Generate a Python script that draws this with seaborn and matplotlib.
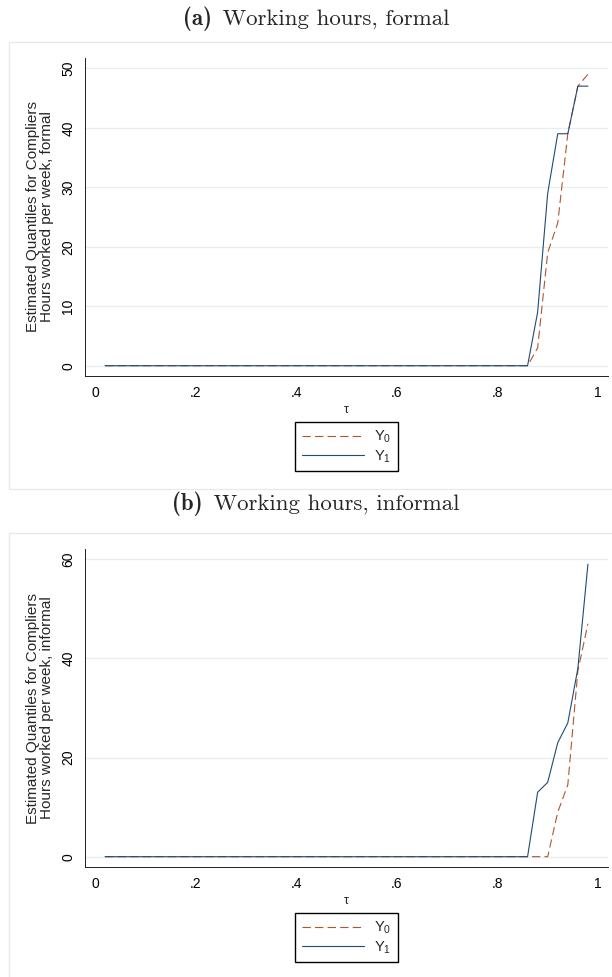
import matplotlib
matplotlib.use("Agg")
import matplotlib.pyplot as plt
from matplotlib.patches import Rectangle
import pandas as pd
import seaborn as sns

# Quantile grid and estimated quantiles for compliers (hours worked per week)
tau = [0.02, 0.04, 0.06, 0.08, 0.10, 0.12, 0.14, 0.16, 0.18, 0.20,
       0.22, 0.24, 0.26, 0.28, 0.30, 0.32, 0.34, 0.36, 0.38, 0.40,
       0.42, 0.44, 0.46, 0.48, 0.50, 0.52, 0.54, 0.56, 0.58, 0.60,
       0.62, 0.64, 0.66, 0.68, 0.70, 0.72, 0.74, 0.76, 0.78, 0.80,
       0.82, 0.84, 0.86, 0.88, 0.90, 0.92, 0.94, 0.96, 0.98]

formal_y0 = [0, 0, 0, 0, 0, 0, 0, 0, 0, 0,
             0, 0, 0, 0, 0, 0, 0, 0, 0, 0,
             0, 0, 0, 0, 0, 0, 0, 0, 0, 0,
             0, 0, 0, 0, 0, 0, 0, 0, 0, 0,
             0, 0, 0, 3, 19, 24, 39, 47, 49]
formal_y1 = [0, 0, 0, 0, 0, 0, 0, 0, 0, 0,
             0, 0, 0, 0, 0, 0, 0, 0, 0, 0,
             0, 0, 0, 0, 0, 0, 0, 0, 0, 0,
             0, 0, 0, 0, 0, 0, 0, 0, 0, 0,
             0, 0, 0, 9, 29, 39, 39, 47, 47]
informal_y0 = [0, 0, 0, 0, 0, 0, 0, 0, 0, 0,
               0, 0, 0, 0, 0, 0, 0, 0, 0, 0,
               0, 0, 0, 0, 0, 0, 0, 0, 0, 0,
               0, 0, 0, 0, 0, 0, 0, 0, 0, 0,
               0, 0, 0, 0, 0, 9, 14.5, 37.5, 47]
informal_y1 = [0, 0, 0, 0, 0, 0, 0, 0, 0, 0,
               0, 0, 0, 0, 0, 0, 0, 0, 0, 0,
               0, 0, 0, 0, 0, 0, 0, 0, 0, 0,
               0, 0, 0, 0, 0, 0, 0, 0, 0, 0,
               0, 0, 0, 13, 15, 23, 27, 38, 59]

series_labels = ["Y$_0$", "Y$_1$"]
panel_tags = ["(a)", "(b)"]
panel_titles = ["Working hours, formal", "Working hours, informal"]
y_titles = ["Estimated Quantiles for Compliers\nHours worked per week, formal",
            "Estimated Quantiles for Compliers\nHours worked per week, informal"]
formal_yticks = [0, 10, 20, 30, 40, 50]
informal_yticks = [0, 20, 40, 60]
xticks = [0, 0.2, 0.4, 0.6, 0.8, 1]
xtick_labels = ["0", ".2", ".4", ".6", ".8", "1"]

sns.set_style("white")
plt.rcParams["font.family"] = ["Liberation Sans", "DejaVu Sans"]
plt.rcParams["mathtext.fontset"] = "custom"
plt.rcParams["mathtext.rm"] = "Liberation Sans"
plt.rcParams["mathtext.it"] = "Liberation Sans:italic"
plt.rcParams["mathtext.bf"] = "Liberation Sans:bold"

W, H = 612, 977
fig = plt.figure(figsize=(W / 100, H / 100), dpi=100)
fig.patch.set_facecolor("white")
renderer = fig.canvas.get_renderer()

Y0_COLOR = "#b0562e"
Y1_COLOR = "#1f4b76"
AXIS_COLOR = "#1e1e1e"
GRID_COLOR = "#e6eef0"
FRAME_COLOR = "#e4eaec"

panels = [
    (formal_y0, formal_y1, formal_yticks, (-1.68, 51.68), 19),
    (informal_y0, informal_y1, informal_yticks, (-2.02, 62.02), 504),
]

PANEL_SHIFT = 491.0
TITLE_CENTER_X = 316.0

for i, (y0, y1, yticks, ylim, title_y) in enumerate(panels):
    off = i * PANEL_SHIFT

    # light outline around each sub-figure
    fig.patches.append(Rectangle((9 / W, 1 - (489 + off) / H), 1.2, (489 - 42.3) / H,
                                 transform=fig.transFigure, fill=False,
                                 ec=FRAME_COLOR, lw=0.9, zorder=0))

    # sub-caption: bold tag followed by roman text, centred as one line
    tag = fig.text(0, 1 - title_y / H, panel_tags[i], ha="left", va="center",
                   fontsize=16.5, family="cmb10")
    cap = fig.text(0, 1 - title_y / H, "\u2009" + panel_titles[i], ha="left",
                   va="center", fontsize=16.5, family=["cmr10", "DejaVu Serif"])
    w_tag = tag.get_window_extent(renderer).width
    w_cap = cap.get_window_extent(renderer).width
    gap = 6.0
    x0 = TITLE_CENTER_X - (w_tag + gap + w_cap) / 2
    tag.set_x(x0 / W)
    cap.set_x((x0 + w_tag + gap) / W)

    left, right, top, bottom = 85.3, 608.0, 58.3 + off, 375.7 + off
    ax = fig.add_axes([left / W, 1 - bottom / H, (right - left) / W, (bottom - top) / H])

    df = pd.DataFrame({
        "tau": tau + tau,
        "q": list(y0) + list(y1),
        "series": [series_labels[0]] * len(tau) + [series_labels[1]] * len(tau),
    })
    sns.lineplot(data=df, x="tau", y="q", hue="series", style="series",
                 palette={series_labels[0]: Y0_COLOR, series_labels[1]: Y1_COLOR},
                 dashes={series_labels[0]: (7.5, 3.8), series_labels[1]: ""},
                 linewidth=0.8, estimator=None, sort=False, ax=ax)

    ax.set_xlim(-0.0193, 1.0199)
    ax.set_ylim(*ylim)
    ax.set_xticks(xticks, xtick_labels)
    ax.set_yticks(yticks, [str(v) for v in yticks])
    for lab in ax.get_yticklabels():
        lab.set_rotation(90)
        lab.set_va("center")

    for side in ("top", "right"):
        ax.spines[side].set_visible(False)
    for side in ("left", "bottom"):
        ax.spines[side].set_color(AXIS_COLOR)
        ax.spines[side].set_linewidth(0.7)

    ax.tick_params(axis="both", direction="out", length=4.3, width=0.7,
                   color=AXIS_COLOR, labelsize=10, labelcolor="black")
    ax.tick_params(axis="x", pad=3)
    ax.tick_params(axis="y", pad=3)
    ax.yaxis.grid(True, color=GRID_COLOR, lw=0.9)
    ax.xaxis.grid(False)
    ax.set_axisbelow(True)

    ax.set_xlabel("τ", fontsize=9, labelpad=3)
    ax.set_ylabel(y_titles[i], fontsize=11, linespacing=0.95, va="center")
    ax.yaxis.set_label_coords((40 - left) / (right - left), 0.5)

    legend_top = (bottom - (422.3 + off)) / (bottom - top)
    sns.move_legend(ax, "upper center", bbox_to_anchor=(0.5, legend_top),
                    title=None, frameon=True, fancybox=False, framealpha=1,
                    edgecolor="black", fontsize=10.5, handlelength=4.3,
                    handletextpad=0.7, borderpad=0.45, labelspacing=0.2,
                    borderaxespad=0)
    ax.get_legend().get_frame().set_linewidth(1.0)

fig.savefig("out.png", dpi=100, facecolor="white")
